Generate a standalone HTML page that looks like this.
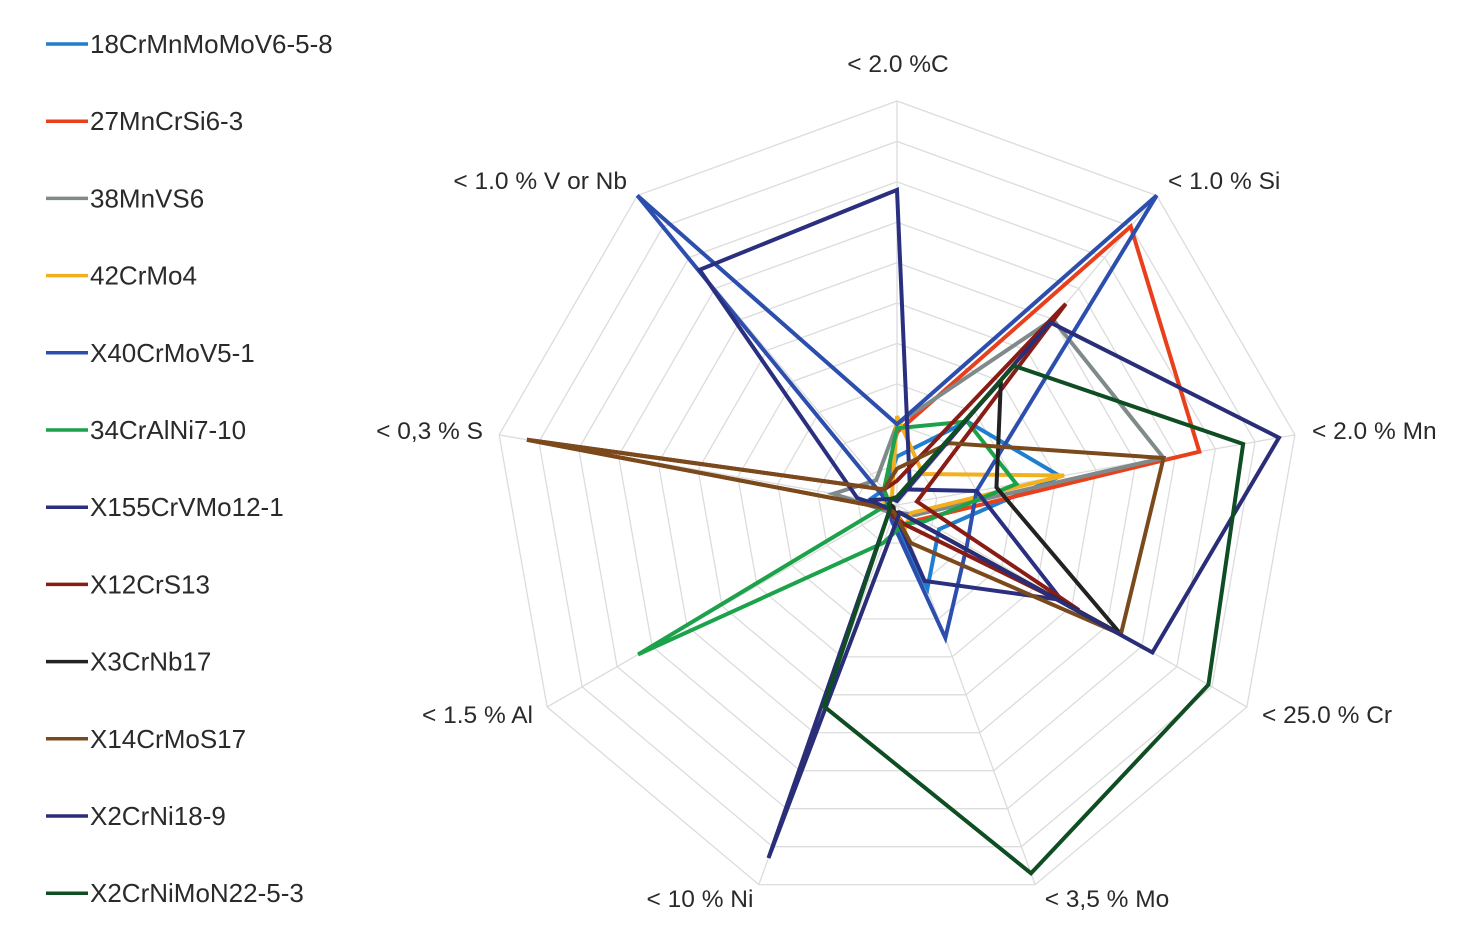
<!DOCTYPE html>
<html><head><meta charset="utf-8"><style>
body{margin:0;background:#fff;font-family:"Liberation Sans",sans-serif;}
svg text{font-family:"Liberation Sans",sans-serif;fill:#2a2a2a;}
</style></head><body>
<svg id="c" width="1473" height="939"></svg>
<script>
const axes=["< 2.0 %C","< 1.0 % Si","< 2.0 % Mn","< 25.0 % Cr","< 3,5 % Mo","< 10 % Ni","< 1.5 % Al","< 0,3 % S","< 1.0 % V or Nb"];
const seriesNames=["18CrMnMoMoV6-5-8","27MnCrSi6-3","38MnVS6","42CrMo4","X40CrMoV5-1","34CrAlNi7-10","X155CrVMo12-1","X12CrS13","X3CrNb17","X14CrMoS17","X2CrNi18-9","X2CrNiMoN22-5-3"];
const colors=["#1f7fcf","#e8401c","#808a8a","#f2b01e","#2c4fae","#1ca24a","#2b2f80","#8a1c16","#222222","#7a4a1c","#2a2d78","#0f4d22"];
const s1=[0.12,0.27,0.41,0.12,0.22,0.03,0.03,0.07,0.05];
const s2=[0.18,0.9,0.76,0.07,0.05,0.02,0.02,0.02,0.05];
const s3=[0.2,0.6,0.67,0.05,0.02,0.02,0.03,0.16,0.08];
const s4=[0.22,0.1,0.42,0.04,0.06,0.02,0.02,0.03,0.02];
const s5=[0.2,1.0,0.2,0.2,0.35,0.04,0.02,0.02,1.0];
const s6=[0.19,0.27,0.3,0.08,0.05,0.1,0.74,0.02,0.05];
const s7=[0.78,0.05,0.2,0.47,0.2,0.02,0.02,0.1,0.76];
const s8=[0.06,0.65,0.05,0.52,0.05,0.03,0.02,0.93,0.05];
const s9=[0.02,0.4,0.25,0.64,0.02,0.02,0.01,0.02,0.02];
const s10=[0.09,0.2,0.67,0.64,0.1,0.02,0.02,0.93,0.05];
const s11=[0.01,0.59,0.96,0.73,0.02,0.93,0.02,0.07,0.02];
const s12=[0.02,0.45,0.87,0.89,0.97,0.53,0.02,0.02,0.02];
const data=[s1,s2,s3,s4,s5,s6,s7,s8,s9,s10,s11,s12];
const NS="http://www.w3.org/2000/svg",svg=document.getElementById('c');
const cx=897,cy=505,R=404;
const labelAnchor=['middle','start','start','start','middle','middle','end','end','end'];
const labelXY=[[898,72],[1168,189],[1312,439],[1262,723],[1107,907],[700,907],[533,723],[483,439],[627,189]];
function ang(i){return (90-40*i)*Math.PI/180;}
function pt(i,v){return [cx+R*v*Math.cos(ang(i)),cy-R*v*Math.sin(ang(i))];}
function mk(t,a){const e=document.createElementNS(NS,t);for(const k in a)e.setAttribute(k,a[k]);svg.appendChild(e);return e;}
for(let k=1;k<=10;k++){const p=axes.map((_,i)=>pt(i,k/10).join(',')).join(' ');
const g=mk('polygon',{points:p,fill:'none',stroke:'#dcdcdc','stroke-width':1.3});

}
axes.forEach((a,i)=>{const [x,y]=pt(i,1);const l=mk('line',{x1:cx,y1:cy,x2:x,y2:y,stroke:'#dcdcdc','stroke-width':1.3});


const t=mk('text',{x:labelXY[i][0],y:labelXY[i][1],'font-size':24.5,'text-anchor':labelAnchor[i]});
t.textContent=a;

});
data.forEach((s,j)=>{const p=s.map((v,i)=>pt(i,v).join(',')).join(' ');
const e=mk('polygon',{points:p,fill:'none',stroke:colors[j],'stroke-width':4,'stroke-linejoin':'miter'});


const y=44+j*77.2;
const l=mk('line',{x1:46,y1:y,x2:88,y2:y,stroke:colors[j],'stroke-width':3.5});


const t=mk('text',{x:90,y:y+9,'font-size':26});t.textContent=seriesNames[j];

});
</script></body></html>
